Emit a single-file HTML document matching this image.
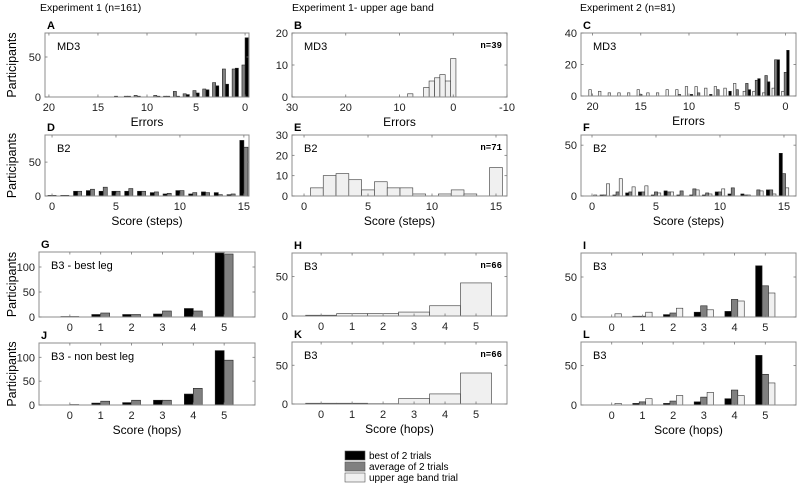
<!DOCTYPE html>
<html><head><meta charset="utf-8">
<style>
html,body{margin:0;padding:0;background:#fff;}
svg{display:block;font-family:"Liberation Sans",sans-serif;}
</style></head>
<body>
<svg id="fig" width="800" height="488" viewBox="0 0 800 488" xmlns="http://www.w3.org/2000/svg">
<text x="40" y="11" font-size="10.5">Experiment 1 (n=161)</text>
<text x="292" y="11" font-size="10.5">Experiment 1- upper age band</text>
<text x="580" y="11" font-size="10.5">Experiment 2 (n=81)</text>
<g>
<rect x="345" y="451" width="20" height="9" fill="#000" stroke="#555" stroke-width="0.6"/>
<text x="369" y="459" font-size="10">best of 2 trials</text>
<rect x="345" y="462" width="20" height="9" fill="#808080" stroke="#555" stroke-width="0.6"/>
<text x="369" y="470" font-size="10">average of 2 trials</text>
<rect x="345" y="473" width="20" height="9" fill="#f0f0f0" stroke="#555" stroke-width="0.6"/>
<text x="369" y="481" font-size="10">upper age band trial</text>
</g>
</svg>
<script>
// ---- data arrays ----
const errorCats = [0,1,2,3,4,5,6,7,8,9,10,11,12,13,14,15,16,17,18,19,20];
const stepCats = [0,1,2,3,4,5,6,7,8,9,10,11,12,13,14,15];
const hopCats = [0,1,2,3,4,5];
// A
const aBest = [74,36,16,14,9,5,3,1,1,1,0,1,1,0,0,0,0,0,0,0,0];
const aAvg  = [40,35,35,18,10,8,4,7,1,2,0,2,1,1,0,0,0,0,0,0,0];
// B
const bUpper = [12,5,7,6,5,3,0,0,1,0,0,0,0,0,0,0,0,0,0,0,0];
// C
const cBest  = [29,23,9,11,4,0,3,0,1,0,1,0,0,0,0,0,0,0,0,0,0];
const cAvg   = [15,23,13,10,8,4,0,4,0,2,0,1,0,0,0,1,0,0,0,0,0];
const cUpper = [3,5,2,3,3,8,5,6,5,6,6,4,4,2,2,4,2,2,2,3,4];
// D
const dBest = [1,1,7,8,7,7,7,7,5,3,8,3,6,5,2,82];
const dAvg  = [1,1,7,10,13,7,11,7,6,4,8,5,5,2,3,72];
// E
const eUpper = [0,4,10,11,8,3,7,4,4,1,0,1,3,1,0,14];
// F
const fBest  = [0,1,1,3,4,1,5,1,1,1,4,2,2,0,6,42];
const fAvg   = [0,1,4,4,4,4,4,5,7,3,4,8,1,6,6,22];
const fUpper = [1,12,17,9,10,3,4,0,6,2,7,0,1,5,2,8];
// G, J
const gBest = [1,5,5,6,17,128];
const gAvg  = [1,8,5,12,12,126];
const jBest = [0,4,5,10,23,114];
const jAvg  = [1,8,10,10,35,94];
// H, K
const hUpper = [1,3,3,5,13,42];
const kUpper = [1,1,0.5,7,13,40];
// I, L
const iBest  = [0,1,3,6,7,64];
const iAvg   = [0,1,5,14,22,39];
const iUpper = [4,6,11,9,20,30];
const lBest  = [0,2,2,4,8,63];
const lAvg   = [0,4,5,10,19,39];
const lUpper = [2,8,12,16,12,28];
// tick labels
const errTicksAC = [20,15,10,5,0];
const errTicksB = [30,20,10,0,-10];
const stepTicks = [0,5,10,15];
const hopTicks = [0,1,2,3,4,5];

const NS = "http://www.w3.org/2000/svg";
const svg = document.getElementById('fig');
const COLORS = {best:'#000000', avg:'#808080', upper:'#f0f0f0'};

function mk(tag, attrs, parent){
  const e = document.createElementNS(NS, tag);
  for (const k in attrs) e.setAttribute(k, attrs[k]);
  (parent||svg).appendChild(e);
  return e;
}

function panel(p){
  const g = mk('g', {});
  
  
  const xs = v => p.x0 + (v - p.xd[0]) / (p.xd[1] - p.xd[0]) * (p.x1 - p.x0);
  const ys = v => p.y1 - Math.min(v, p.yMax) / p.yMax * (p.y1 - p.y0);
  const n = p.series.length;
  p.series.forEach((s, si) => {
    s.vals.forEach((v, i) => {
      if (v <= 0) return;
      const c = p.cats[i];
      let a, b;
      if (p.hist) { a = c - 0.5; b = c + 0.5; }
      else {
        const off = (si - (n - 1) / 2) * p.bw;
        a = c + off - p.bw / 2; b = c + off + p.bw / 2;
      }
      const xa = xs(a), xb = xs(b);
      const r = mk('rect', {x: Math.min(xa, xb), y: ys(v), width: Math.abs(xb - xa), height: p.y1 - ys(v),
        fill: COLORS[s.kind], stroke: s.kind === 'upper' ? '#333' : '#222', 'stroke-width': 0.6}, g);
      
      
    });
  });
  const box = mk('rect', {x: p.x0, y: p.y0, width: p.x1 - p.x0, height: p.y1 - p.y0, fill: 'none', stroke: '#8c8c8c', 'stroke-width': 1}, g);
  
  
  p.xt.forEach(t => {
    const x = xs(t);
    mk('line', {x1: x, x2: x, y1: p.y1, y2: p.y1 - 2.5, stroke: '#777', 'stroke-width': 0.8}, g);
    mk('line', {x1: x, x2: x, y1: p.y0, y2: p.y0 + 2.5, stroke: '#777', 'stroke-width': 0.8}, g);
    const tx = mk('text', {x: x, y: p.y1 + 14, 'font-size': 11, 'text-anchor': 'middle', fill: '#222'}, g);
    tx.textContent = t;
    
    
  });
  p.yt.forEach(t => {
    const y = ys(t);
    mk('line', {x1: p.x0, x2: p.x0 + 2.5, y1: y, y2: y, stroke: '#777', 'stroke-width': 0.8}, g);
    mk('line', {x1: p.x1, x2: p.x1 - 2.5, y1: y, y2: y, stroke: '#777', 'stroke-width': 0.8}, g);
    const tx = mk('text', {x: p.x0 - 4, y: y + 4, 'font-size': 11, 'text-anchor': 'end', fill: '#222'}, g);
    tx.textContent = t;
    
    
  });
  const lt = mk('text', {x: p.x0 + 2, y: p.y0 - 4, 'font-size': 11, 'font-weight': 'bold'}, g);
  lt.textContent = p.letter;
  
  
  const il = mk('text', {x: p.x0 + 12, y: p.y0 + 17, 'font-size': 11}, g);
  il.textContent = p.label;
  
  
  if (p.nText) {
    const nt = mk('text', {x: p.x1 - 5, y: p.y0 + 15, 'font-size': 9, 'font-weight': 'bold', 'text-anchor': 'end', 'font-family': 'Liberation Mono, monospace'}, g);
    nt.textContent = p.nText;
    
    
  }
  if (p.ylabel) {
    const cy = (p.y0 + p.y1) / 2;
    const yl = mk('text', {x: 0, y: 0, 'font-size': 12.5, 'text-anchor': 'middle', transform: 'translate(16,' + cy + ') rotate(-90)'}, g);
    yl.textContent = 'Participants';
    
    
  }
  if (p.xlabel) {
    const xl = mk('text', {x: (p.x0 + p.x1) / 2, y: p.y1 + 29, 'font-size': 12, 'text-anchor': 'middle'}, g);
    xl.textContent = p.xlabel;
    
    
  }
}

const L = [45, 249], M = [292, 507], R = [581, 796];
panel({letter:'A', x0:L[0], x1:L[1], y0:33, y1:97, xd:[20.4,-0.4], yMax:80, cats:errorCats, bw:0.32,
  series:[{kind:'best', vals:aBest},{kind:'avg', vals:aAvg}], xt:errTicksAC, yt:[0,50], label:'MD3', ylabel:true, xlabel:'Errors'});
panel({letter:'B', x0:M[0], x1:M[1], y0:33, y1:97, xd:[30,-10], yMax:20, cats:errorCats, hist:true,
  series:[{kind:'upper', vals:bUpper}], xt:errTicksB, yt:[0,10,20], label:'MD3', nText:'n=39', xlabel:'Errors'});
panel({letter:'C', x0:R[0], x1:R[1], y0:33, y1:96, xd:[21.2,-1.1], yMax:40, cats:errorCats, bw:0.26,
  series:[{kind:'best', vals:cBest},{kind:'avg', vals:cAvg},{kind:'upper', vals:cUpper}], xt:errTicksAC, yt:[0,20,40], label:'MD3', xlabel:'Errors'});
panel({letter:'D', x0:L[0], x1:L[1], y0:135, y1:196, xd:[-0.55,15.4], yMax:90, cats:stepCats, bw:0.32,
  series:[{kind:'best', vals:dBest},{kind:'avg', vals:dAvg}], xt:stepTicks, yt:[0,50], label:'B2', ylabel:true, xlabel:'Score (steps)'});
panel({letter:'E', x0:M[0], x1:M[1], y0:135, y1:196, xd:[-0.94,15.86], yMax:30, cats:stepCats, hist:true,
  series:[{kind:'upper', vals:eUpper}], xt:stepTicks, yt:[0,10,20,30], label:'B2', nText:'n=71', xlabel:'Score (steps)'});
panel({letter:'F', x0:R[0], x1:R[1], y0:135, y1:196, xd:[-0.86,15.94], yMax:60, cats:stepCats, bw:0.25,
  series:[{kind:'best', vals:fBest},{kind:'avg', vals:fAvg},{kind:'upper', vals:fUpper}], xt:stepTicks, yt:[0,50], label:'B2', xlabel:'Score (steps)'});
panel({letter:'G', x0:39, x1:255, y0:252, y1:317, xd:[-1,6], yMax:130, cats:hopCats, bw:0.29,
  series:[{kind:'best', vals:gBest},{kind:'avg', vals:gAvg}], xt:hopTicks, yt:[0,50,100], label:'B3 - best leg', ylabel:true});
panel({letter:'H', x0:M[0], x1:M[1], y0:253, y1:316, xd:[-0.94,6], yMax:80, cats:hopCats, hist:true,
  series:[{kind:'upper', vals:hUpper}], xt:hopTicks, yt:[0,50], label:'B3', nText:'n=66'});
panel({letter:'I', x0:R[0], x1:R[1], y0:253, y1:317, xd:[-1,6], yMax:80, cats:hopCats, bw:0.21,
  series:[{kind:'best', vals:iBest},{kind:'avg', vals:iAvg},{kind:'upper', vals:iUpper}], xt:hopTicks, yt:[0,50], label:'B3'});
panel({letter:'J', x0:39, x1:255, y0:343, y1:405, xd:[-1,6], yMax:130, cats:hopCats, bw:0.29,
  series:[{kind:'best', vals:jBest},{kind:'avg', vals:jAvg}], xt:hopTicks, yt:[0,50,100], label:'B3 - non best leg', ylabel:true, xlabel:'Score (hops)'});
panel({letter:'K', x0:M[0], x1:M[1], y0:342, y1:404, xd:[-0.94,6], yMax:80, cats:hopCats, hist:true,
  series:[{kind:'upper', vals:kUpper}], xt:hopTicks, yt:[0,50], label:'B3', nText:'n=66', xlabel:'Score (hops)'});
panel({letter:'L', x0:R[0], x1:R[1], y0:342, y1:405, xd:[-1,6], yMax:80, cats:hopCats, bw:0.21,
  series:[{kind:'best', vals:lBest},{kind:'avg', vals:lAvg},{kind:'upper', vals:lUpper}], xt:hopTicks, yt:[0,50], label:'B3', xlabel:'Score (hops)'});
</script>
</body></html>
